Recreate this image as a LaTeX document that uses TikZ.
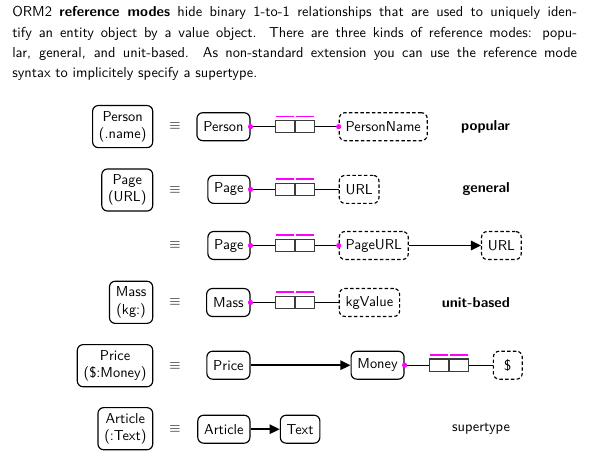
\documentclass[tikz,border=0pt]{standalone}
\usepackage{fontspec}
\usepackage{tikz}
\usetikzlibrary{arrows.meta, positioning}
\renewcommand{\familydefault}{\sfdefault}
\definecolor{mandatory}{RGB}{255, 0, 255}
\definecolor{rolegray}{RGB}{60, 60, 60}

\begin{document}
\begin{tikzpicture}[
    x=0.694pt, y=-0.694pt,
    entity/.style={draw, line width=0.8pt, rounded corners=4pt, inner xsep=4.4pt,
                   inner ysep=3.9pt, minimum height=19.4pt, minimum width=20pt},
    refmode/.style={entity, align=center},
    value/.style={entity, dash pattern=on 2.4pt off 1.6pt},
    role/.style={draw=rolegray, line width=0.7pt, minimum width=13.2pt,
                 minimum height=8.6pt, inner sep=0pt},
    uc/.style={draw=mandatory, line width=1.2pt},
    link/.style={line width=0.6pt},
    subtype/.style={line width=1.3pt, -{Triangle[length=7pt, width=6.5pt]}},
    kind/.style={anchor=east, font=\bfseries}
]
    \useasboundingbox (0,0) rectangle (589,457);

    \node[anchor=base west, inner sep=0pt, text width=392pt, align=justify,
          font=\fontsize{10pt}{14.1pt}\selectfont] (intro) at (12,16.7)
        {ORM2 \textbf{reference modes} hide binary 1-to-1 relationships that are used to uniquely iden-\linebreak
         tify an entity object by a value object. There are three kinds of reference modes: popu-\linebreak
         lar, general, and unit-based. As non-standard extension you can use the reference mode\linebreak
         syntax to implicitely specify a supertype.};

    % popular
    \node[refmode, anchor=east] (rm1) at (153.3,126.6) {Person\\(.name)};
    \node (eq1) at (175,126.6) {$\equiv$};
    \node[entity, anchor=east] (person) at (250.5,126.7) {Person};
    \node[role, right=16.7pt of person] (r1a) {};
    \node[role, right=0pt of r1a] (r1b) {};
    \node[value, right=16.7pt of r1b] (personname) {PersonName};
    \node[kind] (k1) at (515,126.7) {popular};
    \draw[link] (person) -- (r1a);
    \draw[link] (r1b) -- (personname);

    % general
    \node[refmode, anchor=east] (rm2) at (153.3,190) {Page\\(URL)};
    \node (eq2) at (175,190) {$\equiv$};
    \node[entity, anchor=east] (page) at (250.5,189.4) {Page};
    \node[role, right=16.7pt of page] (r2a) {};
    \node[role, right=0pt of r2a] (r2b) {};
    \node[value, right=16.7pt of r2b] (url) {URL};
    \node[kind] (k2) at (515,189.4) {general};
    \draw[link] (page) -- (r2a);
    \draw[link] (r2b) -- (url);

    \node (eq3) at (175,245.5) {$\equiv$};
    \node[entity, anchor=east] (page3) at (250.5,245.5) {Page};
    \node[role, right=16.7pt of page3] (r3a) {};
    \node[role, right=0pt of r3a] (r3b) {};
    \node[value, right=16.7pt of r3b] (pageurl) {PageURL};
    \node[value, right=50pt of pageurl] (url3) {URL};
    \draw[link] (page3) -- (r3a);
    \draw[link] (r3b) -- (pageurl);
    \draw[subtype] (pageurl) -- (url3);

    % unit-based
    \node[refmode, anchor=east] (rm4) at (153.3,302.3) {Mass\\(kg:)};
    \node (eq4) at (175,302.3) {$\equiv$};
    \node[entity, anchor=east] (mass) at (250.5,302.5) {Mass};
    \node[role, right=16.7pt of mass] (r4a) {};
    \node[role, right=0pt of r4a] (r4b) {};
    \node[value, right=16.7pt of r4b] (kgvalue) {kgValue};
    \node[kind] (k4) at (515,302.5) {unit-based};
    \draw[link] (mass) -- (r4a);
    \draw[link] (r4b) -- (kgvalue);

    \node[refmode, anchor=east] (rm5) at (153.3,365.7) {Price\\(\$:Money)};
    \node (eq5) at (175,365.7) {$\equiv$};
    \node[entity, anchor=east] (price) at (250.5,365.2) {Price};
    \node[entity, right=69.4pt of price] (money) {Money};
    \node[role, right=16.7pt of money] (r5a) {};
    \node[role, right=0pt of r5a] (r5b) {};
    \node[value, right=16.7pt of r5b] (dollar) {\$};
    \draw[subtype] (price) -- (money);
    \draw[link] (money) -- (r5a);
    \draw[link] (r5b) -- (dollar);

    % supertype
    \node[refmode, anchor=east] (rm6) at (153.3,428.7) {Article\\(:Text)};
    \node (eq6) at (175,428.7) {$\equiv$};
    \node[entity, anchor=east] (article) at (250.5,429.2) {Article};
    \node[entity, right=20.3pt of article] (text) {Text};
    \node[anchor=east] (k6) at (515,429.2) {supertype};
    \draw[subtype] (article) -- (text);

    % uniqueness bars and mandatory dots
    \foreach \cell in {r1a,r1b,r2a,r2b,r3a,r3b,r4a,r4b,r5a,r5b}
        \draw[uc] ([shift={(0.7pt,2.5pt)}]\cell.north west) -- ([shift={(-0.7pt,2.5pt)}]\cell.north east);
    \foreach \d in {person.east,personname.west,page.east,page3.east,pageurl.west,mass.east,money.east}
        \fill[mandatory] (\d) circle (1.8pt);
\end{tikzpicture}
\end{document}
